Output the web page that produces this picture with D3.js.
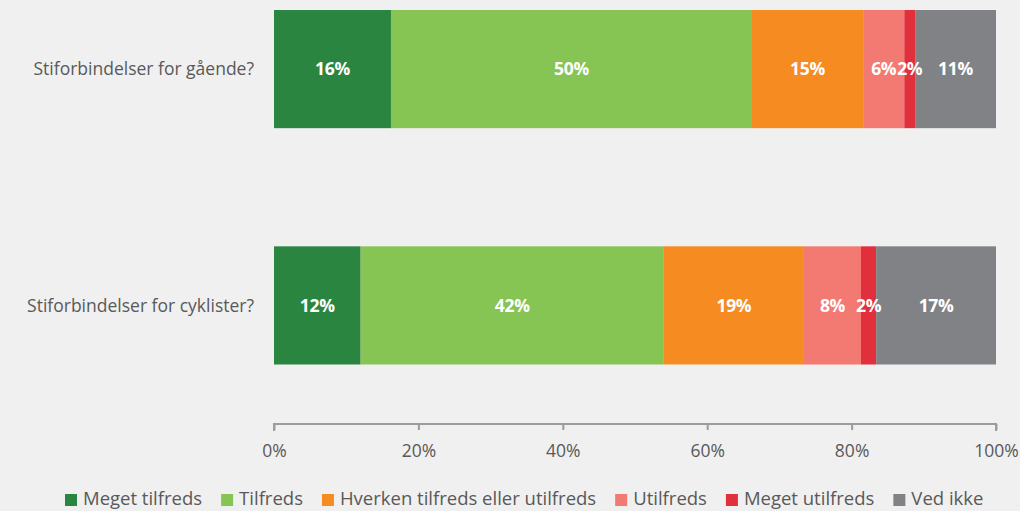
<!DOCTYPE html>
<html>
<head>
<meta charset="utf-8">
<script src="https://cdn.jsdelivr.net/npm/d3@7"></script>
<style>
	body { margin: 0; background: #f0f0f0; }
	svg { display: block; font-family: "Open Sans", sans-serif; }
</style>
</head>
<body>
<div id="chart"></div>
<script>
// categories (rows) and response levels
const questions = ['Stiforbindelser for gående?', 'Stiforbindelser for cyklister?'];
const levels = ['Meget tilfreds', 'Tilfreds', 'Hverken tilfreds eller utilfreds', 'Utilfreds', 'Meget utilfreds', 'Ved ikke'];
const levelColors = ['#2a8540', '#86c453', '#f68b21', '#f37a72', '#e1303c', '#818286'];

// shares per row, in percent
const gaaende = [16.2, 50.0, 15.4, 5.7, 1.5, 11.2];
const cyklister = [12.0, 42.0, 19.4, 7.9, 2.1, 16.6];

const xTicks = [0, 20, 40, 60, 80, 100];

const width = 1020, height = 511;
const margin = { left: 274, right: 24, top: 10 };

const svg = d3.select('#chart').append('svg')
	.attr('width', width)
	.attr('height', height);

const xScale = d3.scaleLinear()
	.domain([0, 100])
	.range([margin.left, width - margin.right]);

const yScale = d3.scaleBand()
	.domain(questions)
	.range([10, 364.5])
	.paddingInner(0.5)
	.paddingOuter(0);

// build stacked segments
const rows = [gaaende, cyklister];
const segments = [];
rows.forEach((vals, r) => {
	let acc = 0;
	vals.forEach((v, i) => {
		segments.push({ q: questions[r], level: i, x0: acc, x1: acc + v, v: v });
		acc += v;
	});
});

svg.append('g').selectAll('rect')
	.data(segments)
	.join('rect')
	.attr('x', d => xScale(d.x0))
	.attr('width', d => xScale(d.x1) - xScale(d.x0))
	.attr('y', d => yScale(d.q))
	.attr('height', yScale.bandwidth())
	.attr('fill', d => levelColors[d.level]);

svg.append('g').selectAll('text')
	.data(segments)
	.join('text')
	.attr('x', d => (xScale(d.x0) + xScale(d.x1)) / 2)
	.attr('y', d => yScale(d.q) + yScale.bandwidth() / 2)
	.attr('dy', '0.35em')
	.attr('text-anchor', 'middle')
	.attr('fill', '#fff')
	.style('font-weight', 'bold')
	.style('font-size', '17.5px')
	.style('letter-spacing', '-0.3px')
	.text(d => Math.round(d.v) + '%');

// row labels
svg.append('g').selectAll('text')
	.data(questions)
	.join('text')
	.attr('x', margin.left - 20)
	.attr('y', d => yScale(d) + yScale.bandwidth() / 2)
	.attr('dy', '0.35em')
	.attr('text-anchor', 'end')
	.attr('fill', '#595959')
	.style('font-size', '17.5px')
	.text(d => d);

// x axis
const xAxis = d3.axisBottom(xScale)
	.tickValues(xTicks)
	.tickSize(6)
	.tickPadding(15)
	.tickFormat(d => d + '%');

const xAxisGroup = svg.append('g')
	.attr('transform', 'translate(0, 424)')
	.call(xAxis);
xAxisGroup.select('.domain').attr('stroke', '#9c9c9c').attr('stroke-width', 2).attr('d', `M${xScale(0)},7V0H${xScale(100)}V7`);
xAxisGroup.selectAll('.tick line').attr('stroke', '#9c9c9c').attr('stroke-width', 2);
xAxisGroup.selectAll('.tick text')
	.attr('fill', '#595959')
	.style('font-size', '17.5px')
	.style('font-family', '"Open Sans", sans-serif');

// legend
const legend = svg.append('g').attr('transform', 'translate(0, 499)');
let lx = 65;
levels.forEach((name, i) => {
	const item = legend.append('g').attr('transform', `translate(${lx}, 0)`);
	item.append('rect')
		.attr('x', 0).attr('y', -5)
		.attr('width', 12).attr('height', 12)
		.attr('fill', levelColors[i]);
	const t = item.append('text')
		.attr('x', 18)
		.attr('dy', '0.3em')
		.attr('fill', '#595959')
		.style('font-size', '18.5px')
		.text(name);
	lx += 18 + t.node().getComputedTextLength() + 19;
});
</script>
</body>
</html>
